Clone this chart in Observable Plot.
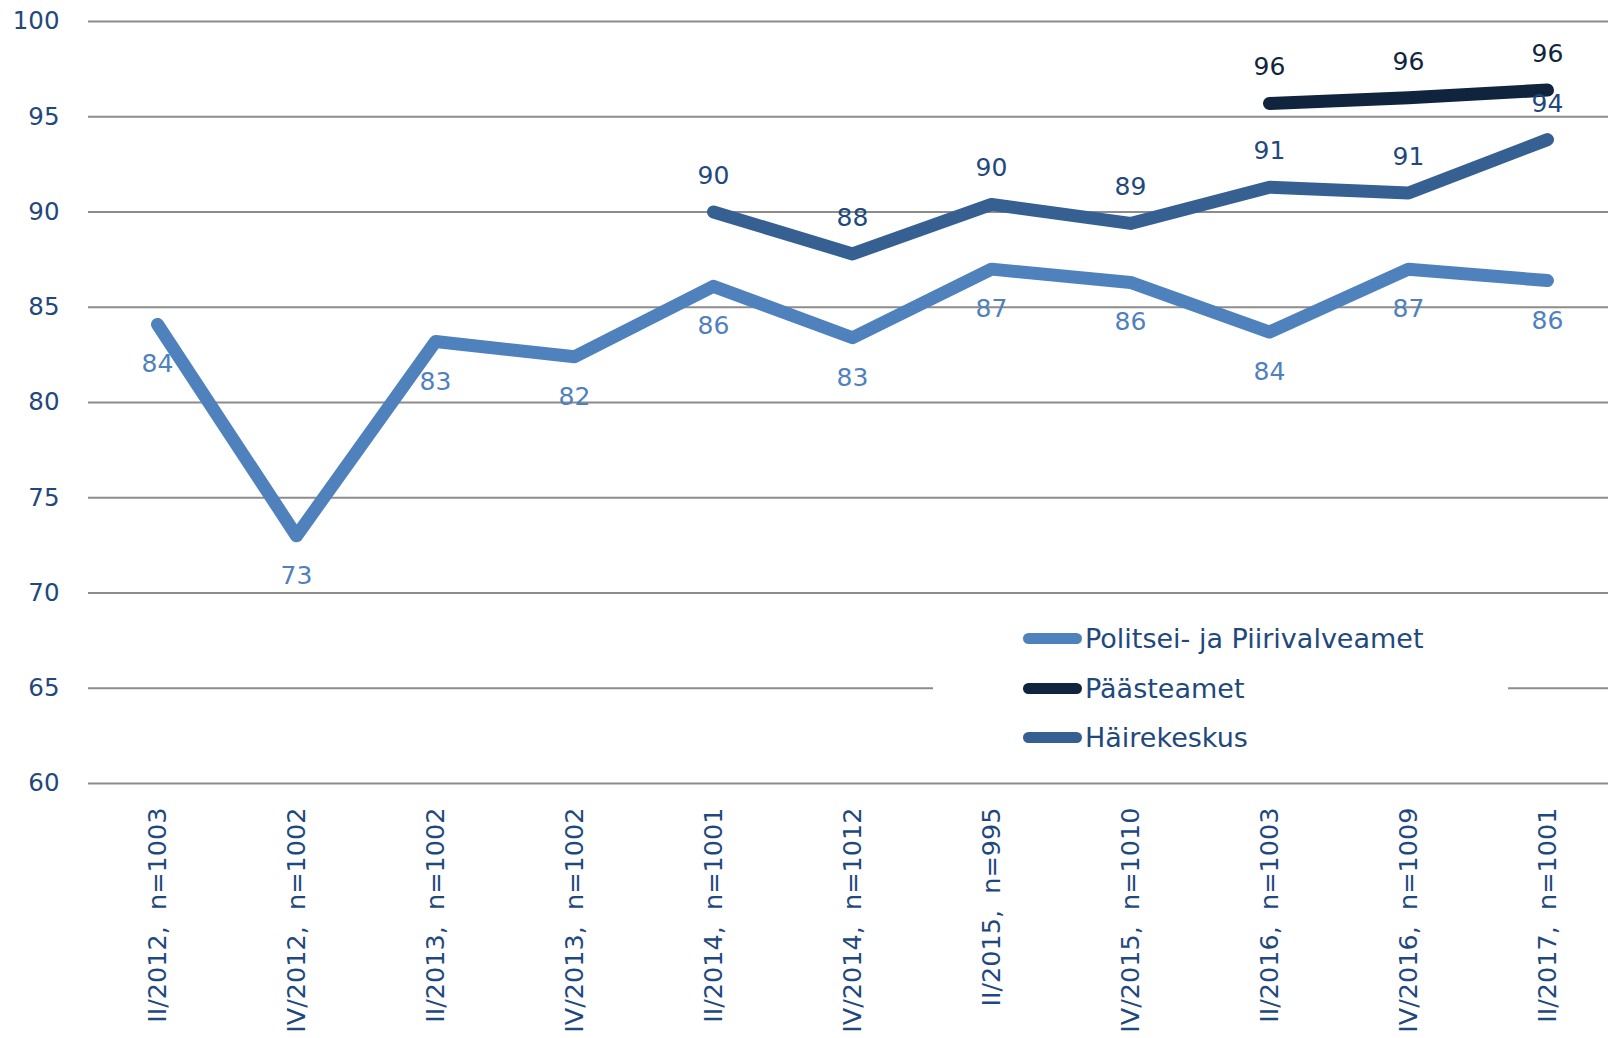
<!DOCTYPE html>
<html>
<head>
<meta charset="utf-8">
<script src="https://cdn.jsdelivr.net/npm/d3@7"></script>
<script src="https://cdn.jsdelivr.net/npm/@observablehq/plot@0.6"></script>
<style>
  html, body { margin: 0; padding: 0; background: #fff; }
  #wrap { position: relative; width: 1608px; height: 1038px; font-family: "DejaVu Sans", Verdana, sans-serif; }
  #legend { position: absolute; left: 933px; top: 600px; width: 575px; height: 170px; background: #fff; }
  .item { position: absolute; left: 90px; height: 30px; display: flex; align-items: center; color: #1F497D; font-size: 27px; white-space: nowrap; }
  .sw { width: 59px; height: 11px; border-radius: 5.5px; margin-right: 3px; }
</style>
</head>
<body>
<div id="wrap"></div>
<script>
const categories = [
  "II/2012,  n=1003", "IV/2012,  n=1002", "II/2013,  n=1002", "IV/2013,  n=1002",
  "II/2014,  n=1001", "IV/2014,  n=1012", "II/2015,  n=995", "IV/2015,  n=1010",
  "II/2016,  n=1003", "IV/2016,  n=1009", "II/2017,  n=1001"
];
const seriesNames = ["Politsei- ja Piirivalveamet", "Päästeamet", "Häirekeskus"];
const seriesColors = ["#4F81BD", "#10243E", "#376092"];
const labelColors = ["#4F81BD", "#10243E", "#1F497D"];
const politsei = [84.1, 73.0, 83.2, 82.4, 86.1, 83.4, 87.0, 86.3, 83.7, 87.0, 86.4];
const paaste   = [null, null, null, null, null, null, null, null, 95.7, 96.0, 96.4];
const haire    = [null, null, null, null, 90.0, 87.8, 90.4, 89.4, 91.3, 91.0, 93.8];
const yTicks = [60, 65, 70, 75, 80, 85, 90, 95, 100];

const seriesValues = [politsei, paaste, haire];
const data = [];
seriesValues.forEach((vals, s) => {
  vals.forEach((v, i) => {
    if (v != null) data.push({cat: categories[i], value: v, series: seriesNames[s], si: s});
  });
});

const font = "DejaVu Sans, Verdana, sans-serif";
const chart = Plot.plot({
  width: 1608,
  height: 1038,
  marginLeft: 88,
  marginRight: 0,
  marginTop: 21,
  marginBottom: 255,
  style: {fontFamily: font, fontSize: "24px", background: "transparent", overflow: "visible"},
  x: {type: "point", domain: categories, padding: 0, range: [157, 1547]},
  y: {domain: [60, 100]},
  color: {domain: seriesNames, range: seriesColors},
  marks: [
    Plot.ruleY(yTicks, {stroke: "#8C8C8C", strokeWidth: 2}),
    Plot.axisY({ticks: yTicks, tickSize: 0, tickPadding: 29, label: null, fill: "#1F497D", fontSize: 24.5}),
    Plot.axisX({tickSize: 0, tickPadding: 24, tickRotate: -90, label: null, fill: "#1F497D", fontSize: 25.5}),
    ...seriesNames.map((name, s) =>
      Plot.line(data.filter(d => d.si === s), {
        x: "cat", y: "value", stroke: seriesColors[s], strokeWidth: 13,
        strokeLinecap: "round", strokeLinejoin: "round"
      })
    ),
    ...seriesNames.map((name, s) =>
      Plot.text(data.filter(d => d.si === s), {
        x: "cat", y: "value", text: d => String(Math.round(d.value)),
        dy: s === 0 ? 40 : -36, fill: labelColors[s], fontSize: 25
      })
    )
  ]
});
const wrap = document.getElementById("wrap");
wrap.appendChild(chart);

// legend
const legend = document.createElement("div");
legend.id = "legend";
const rowTops = [23, 73, 122];
seriesNames.forEach((name, s) => {
  const item = document.createElement("div");
  item.className = "item";
  item.style.top = rowTops[s] + "px";
  const sw = document.createElement("span");
  sw.className = "sw";
  sw.style.background = seriesColors[s];
  const t = document.createElement("span");
  t.textContent = name;
  item.appendChild(sw);
  item.appendChild(t);
  legend.appendChild(item);
});
wrap.appendChild(legend);
</script>
</body>
</html>
